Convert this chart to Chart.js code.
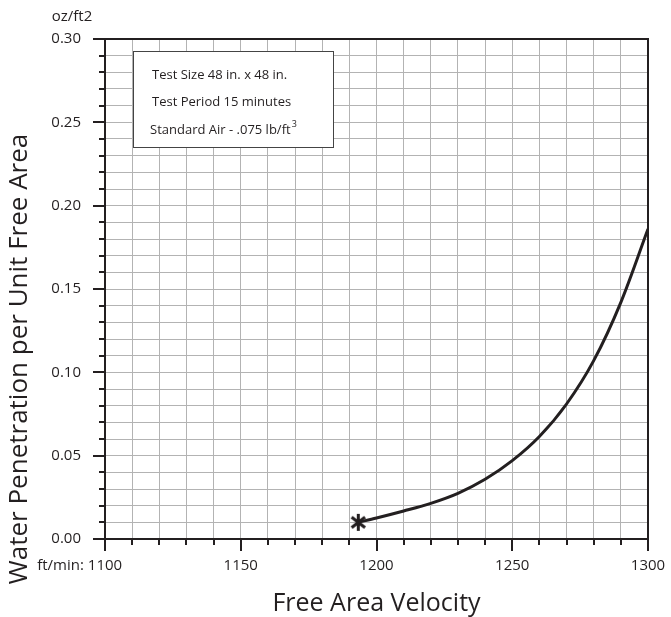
<!DOCTYPE html>
<html>
<head>
<meta charset="utf-8">
<script src="https://cdn.jsdelivr.net/npm/chart.js@4/dist/chart.umd.min.js"></script>
<style>
  body { margin: 0; background: #fff; }
  canvas { display: block; }
</style>
</head>
<body>
<canvas id="chart" width="671" height="617"></canvas>
<script>
// values
const velocity = [1193.3, 1200, 1210, 1220, 1230, 1240, 1250, 1260, 1270, 1280, 1290, 1300];
const penetration = [0.010, 0.0126, 0.0168, 0.0214, 0.0274, 0.0358, 0.047, 0.0615, 0.081, 0.107, 0.142, 0.186];
const startPoint = { x: 1193.3, y: 0.010 };

const xLabelValues = [1100, 1150, 1200, 1250, 1300];
const yLabelValues = [0, 0.05, 0.10, 0.15, 0.20, 0.25, 0.30];
const notes = ['Test Size 48 in. x 48 in.', 'Test Period 15 minutes', 'Standard Air - .075 lb/ft'];

const INK = '#231f20';
const FONT = "'Open Sans', 'Noto Sans', sans-serif";

function makeAsterisk(size, lineWidth, color) {
  const c = document.createElement('canvas');
  c.width = size;
  c.height = size;
  const g = c.getContext('2d');
  g.strokeStyle = color;
  g.lineWidth = lineWidth;
  const m = size / 2;
  const r = size / 2 - 1;
  [90, 38, -38].forEach((deg) => {
    const t = (deg * Math.PI) / 180;
    g.beginPath();
    g.moveTo(m - r * Math.cos(t), m - r * Math.sin(t));
    g.lineTo(m + r * Math.cos(t), m + r * Math.sin(t));
    g.stroke();
  });
  return c;
}

const decorPlugin = {
  id: 'decor',
  beforeDatasetsDraw(chart) {
    const { ctx, chartArea } = chart;
    // notes box
    const left = chartArea.left + 28;
    const top = chartArea.top + 12;
    const w = 200;
    const h = 96;
    ctx.save();
    ctx.fillStyle = '#fff';
    ctx.fillRect(left, top, w, h);
    ctx.strokeStyle = '#444';
    ctx.lineWidth = 1;
    ctx.strokeRect(left + 0.5, top + 0.5, w, h);
    ctx.fillStyle = INK;
    ctx.font = `13px ${FONT}`;
    ctx.textBaseline = 'middle';
    ctx.textAlign = 'left';
    notes.forEach((line, i) => {
      const x = left + (i === 2 ? 17 : 19);
      const y = top + 24 + i * 27.5;
      ctx.fillText(line, x, y);
      if (i === 2) {
        const lw = ctx.measureText(line).width;
        ctx.font = `9px ${FONT}`;
        ctx.fillText('3', x + lw + 1, y - 6);
        ctx.font = `13px ${FONT}`;
      }
    });
    ctx.restore();
  },
  afterDraw(chart) {
    const { ctx, chartArea, scales } = chart;
    const xs = scales.x;
    const ys = scales.y;
    ctx.save();
    ctx.strokeStyle = INK;
    ctx.lineWidth = 2;

    // top and right frame
    ctx.beginPath();
    ctx.moveTo(chartArea.left, chartArea.top);
    ctx.lineTo(chartArea.right, chartArea.top);
    ctx.lineTo(chartArea.right, chartArea.bottom);
    ctx.stroke();

    // x tick marks
    for (let v = xs.min; v <= xs.max + 0.001; v += 10) {
      const px = Math.round(xs.getPixelForValue(v));
      const len = Math.round(v) % 50 === 0 ? 12 : 6;
      ctx.beginPath();
      ctx.moveTo(px, chartArea.bottom);
      ctx.lineTo(px, chartArea.bottom + len);
      ctx.stroke();
    }
    // y tick marks
    for (let i = 0; i <= 30; i++) {
      const py = Math.round(ys.getPixelForValue(i / 100));
      const len = i % 5 === 0 ? 12 : 6;
      ctx.beginPath();
      ctx.moveTo(chartArea.left, py);
      ctx.lineTo(chartArea.left - len, py);
      ctx.stroke();
    }

    ctx.fillStyle = INK;
    ctx.textBaseline = 'middle';

    // unit labels
    ctx.font = `15px ${FONT}`;
    ctx.textAlign = 'right';
    const firstX = xs.getPixelForValue(xLabelValues[0]);
    const firstW = ctx.measureText(String(xLabelValues[0])).width;
    ctx.fillText('ft/min:', firstX - firstW / 2 - 4, chartArea.bottom + 27);
    ctx.textAlign = 'center';
    ctx.fillText('oz/ft2', 72, 17);

    // axis titles
    ctx.font = `25px ${FONT}`;
    ctx.fillText('Free Area Velocity', (chartArea.left + chartArea.right) / 2, 604);
    ctx.save();
    ctx.translate(20, 359);
    ctx.rotate(-Math.PI / 2);
    ctx.font = `26px ${FONT}`;
    ctx.fillText('Water Penetration per Unit Free Area', 0, 0);
    ctx.restore();

    ctx.restore();
  }
};

new Chart(document.getElementById('chart'), {
  type: 'scatter',
  data: {
    datasets: [
      {
        data: velocity.map((v, i) => ({ x: v, y: penetration[i] })),
        showLine: true,
        borderColor: INK,
        borderWidth: 3,
        pointRadius: 0,
        cubicInterpolationMode: 'monotone'
      },
      {
        data: [startPoint],
        pointStyle: makeAsterisk(19, 3, INK),
        pointRadius: 9
      }
    ]
  },
  options: {
    responsive: false,
    devicePixelRatio: 1,
    animation: false,
    layout: { padding: { top: 39, right: 23, left: 0, bottom: 0 } },
    plugins: {
      legend: { display: false },
      tooltip: { enabled: false }
    },
    scales: {
      x: {
        type: 'linear',
        min: 1100,
        max: 1300,
        afterFit: (scale) => {
          scale.height = 78;
          scale.paddingLeft = 0;
          scale.paddingRight = 0;
        },
        border: { display: true, color: INK, width: 2 },
        grid: { color: '#b3b3b3', lineWidth: 1, drawTicks: false },
        ticks: {
          stepSize: 10,
          autoSkip: false,
          maxRotation: 0,
          padding: 18,
          color: INK,
          font: { family: FONT, size: 15 },
          callback: (value) => (xLabelValues.includes(Math.round(value)) ? String(Math.round(value)) : '')
        }
      },
      y: {
        type: 'linear',
        min: 0,
        max: 0.30,
        afterFit: (scale) => {
          scale.width = 105;
          scale.paddingTop = 0;
          scale.paddingBottom = 0;
        },
        border: { display: true, color: INK, width: 2 },
        grid: { color: '#b3b3b3', lineWidth: 1, drawTicks: false },
        ticks: {
          stepSize: 0.01,
          autoSkip: false,
          padding: 24,
          color: INK,
          font: { family: FONT, size: 15 },
          callback: (value) => {
            const hit = yLabelValues.find((v) => Math.abs(v - value) < 1e-6);
            return hit === undefined ? '' : hit.toFixed(2);
          }
        }
      }
    }
  },
  plugins: [decorPlugin]
});
</script>
</body>
</html>
